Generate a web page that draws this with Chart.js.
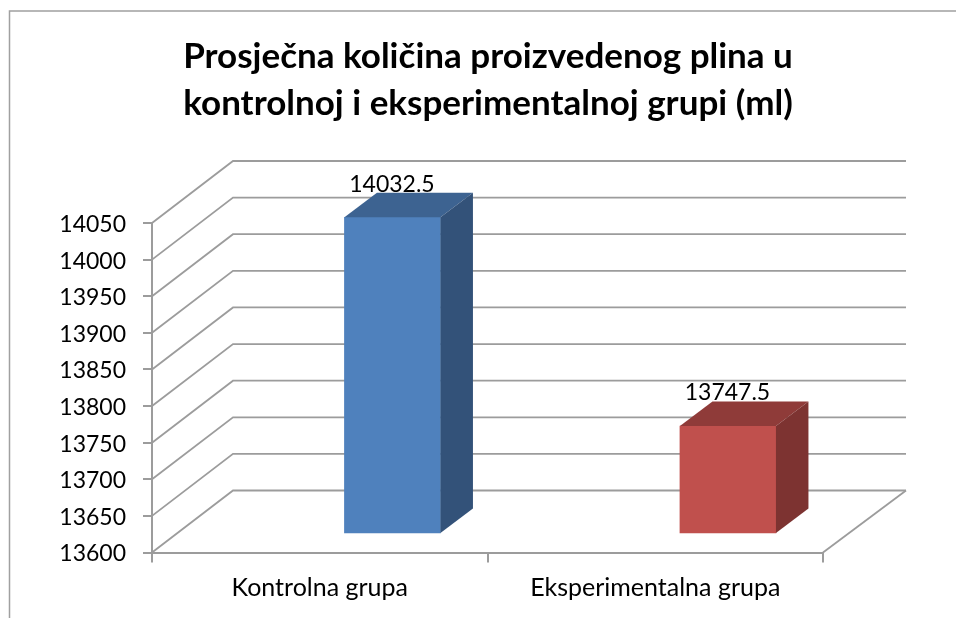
<!DOCTYPE html>
<html><head><meta charset="utf-8">
<style>html,body{margin:0;padding:0;background:#fff}canvas{display:block}</style>
<script src="https://cdn.jsdelivr.net/npm/chart.js@4"></script>
</head><body><canvas id="c" width="956" height="618"></canvas>
<script>
const categories = ["Kontrolna grupa", "Eksperimentalna grupa"];
const values = [14032.5, 13747.5];
const valueLabels = ["14032.5", "13747.5"];
const yTicks = [13600, 13650, 13700, 13750, 13800, 13850, 13900, 13950, 14000, 14050];
const titleLines = ["Prosječna količina proizvedenog plina u", "kontrolnoj i eksperimentalnoj grupi (ml)"];
const frontColors = ["#4F81BD", "#C0504D"];
const sideColors = ["#335279", "#7D3331"];
const topColors = ["#3D6391", "#8F3B39"];

const FONT = "Lato, 'Open Sans', sans-serif";
const GRID = "#9c9c9c";
const wall = {dx: 81, dy: -62};
const barShift = {dx: 72.7, dy: -18.5};
const barDepth = {dx: 32.5, dy: -24.5};

const plugin3d = {
  id: "plugin3d",
  beforeDraw(chart) {
    const c = chart.ctx;
    c.save();
    c.fillStyle = "#fff";
    c.fillRect(0, 0, chart.width, chart.height);
    c.strokeStyle = "#a0a0a0";
    c.lineWidth = 1.5;
    c.beginPath();
    c.moveTo(9.5, chart.height);
    c.lineTo(9.5, 11);
    c.lineTo(chart.width, 11);
    c.stroke();
    c.restore();
  },
  afterLayout(chart) {
    chart.titleBlock.left = 20;
    chart.titleBlock.right = 956;
  },
  beforeDatasetsDraw(chart) {
    const c = chart.ctx, y = chart.scales.y, a = chart.chartArea;
    c.save();
    c.strokeStyle = GRID;
    c.lineWidth = 1.8;
    yTicks.forEach(v => {
      const py = y.getPixelForValue(v);
      c.beginPath();
      c.moveTo(a.left, py);
      c.lineTo(a.left + wall.dx, py + wall.dy);
      c.lineTo(a.right + wall.dx + 2, py + wall.dy);
      c.stroke();
    });
    c.beginPath();
    c.moveTo(a.right, a.bottom);
    c.lineTo(a.right + wall.dx + 2, a.bottom + wall.dy);
    c.stroke();
    c.restore();
  },
  beforeDatasetDraw(chart) {
    chart.ctx.save();
    chart.ctx.translate(barShift.dx, barShift.dy);
  },
  afterDatasetDraw(chart, args) {
    const c = chart.ctx;
    const d = barDepth;
    chart.getDatasetMeta(args.index).data.forEach((b, i) => {
      const l = b.x - b.width / 2, r = b.x + b.width / 2, t = b.y, bo = b.base;
      c.fillStyle = topColors[i];
      c.beginPath();
      c.moveTo(l, t); c.lineTo(l + d.dx, t + d.dy); c.lineTo(r + d.dx, t + d.dy); c.lineTo(r, t);
      c.closePath(); c.fill();
      c.fillStyle = sideColors[i];
      c.beginPath();
      c.moveTo(r, t); c.lineTo(r + d.dx, t + d.dy); c.lineTo(r + d.dx, bo + d.dy); c.lineTo(r, bo);
      c.closePath(); c.fill();
    });
    c.restore();
  },
  afterDatasetsDraw(chart) {
    const c = chart.ctx;
    c.save();
    c.fillStyle = "#000";
    c.font = "23px " + FONT;
    c.textAlign = "center";
    c.textBaseline = "alphabetic";
    chart.getDatasetMeta(0).data.forEach((b, i) => {
      c.fillText(valueLabels[i], b.x + barShift.dx - 0.5, b.y + barShift.dy + barDepth.dy - 1);
    });
    c.restore();
  }
};

new Chart(document.getElementById("c"), {
  type: "bar",
  data: {
    labels: categories,
    datasets: [{
      data: values,
      base: yTicks[0],
      backgroundColor: frontColors,
      barThickness: 96,
      clip: false
    }]
  },
  options: {
    responsive: false,
    animation: false,
    events: [],
    layout: {padding: {left: 20, right: 133, top: 0, bottom: 0}},
    plugins: {
      legend: {display: false},
      tooltip: {enabled: false},
      title: {
        display: true,
        text: titleLines,
        color: "#000",
        font: {family: FONT, size: 35, weight: "bold", lineHeight: "47px"},
        padding: {top: 33, bottom: 96}
      }
    },
    scales: {
      x: {
        grid: {offset: true, drawOnChartArea: false, color: GRID, lineWidth: 2, tickLength: 10},
        border: {color: GRID, width: 2},
        ticks: {color: "#000", font: {family: FONT, size: 25}, padding: 10, maxRotation: 0},
        afterFit(s) { s.height = 65.5; }
      },
      y: {
        min: yTicks[0],
        max: yTicks[yTicks.length - 1],
        grid: {drawOnChartArea: false, color: GRID, lineWidth: 2, tickLength: 9},
        border: {color: GRID, width: 2},
        ticks: {
          color: "#000",
          stepSize: 50,
          autoSkip: false,
          padding: 17,
          labelOffset: 1.5,
          font: {family: FONT, size: 23},
          callback: v => String(v)
        },
        afterFit(s) { s.width = 132; }
      }
    }
  },
  plugins: [plugin3d]
});
</script></body></html>
